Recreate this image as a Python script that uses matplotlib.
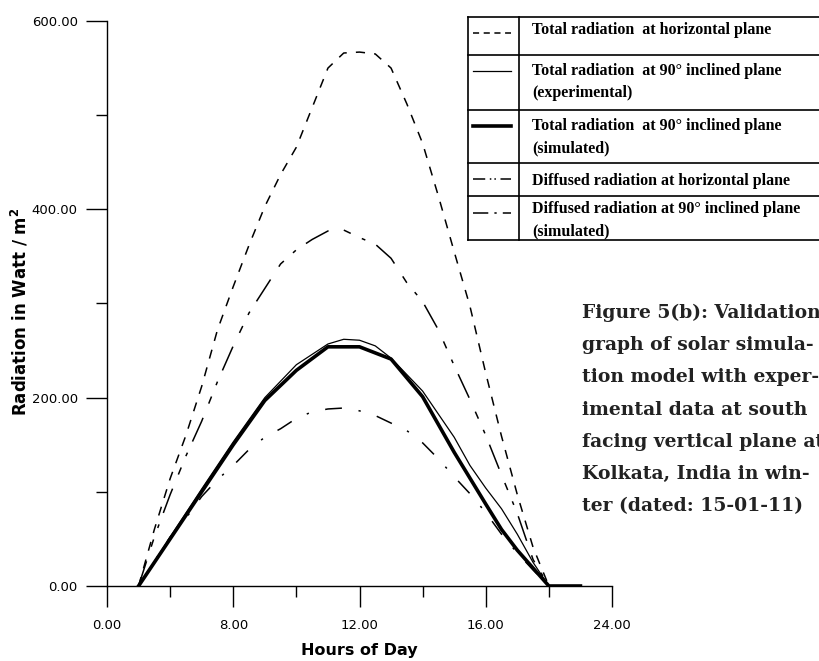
import matplotlib
matplotlib.use("Agg")
import matplotlib.pyplot as plt
from matplotlib.lines import Line2D

# hours of day (axis units) and radiation in W/m2
hours_th = [5.0, 5.5, 6.0, 6.5, 7.0, 7.5, 8.0, 8.5, 9.0, 9.5, 10.0, 10.5, 11.0, 11.5,
            12.0, 12.5, 13.0, 13.5, 14.0, 14.5, 15.0, 15.5, 16.0, 16.5, 17.0, 17.5, 18.0]
total_horizontal = [0, 60, 114, 160, 212, 272, 318, 362, 403, 437, 466, 508, 550, 566,
                    567, 565, 550, 512, 470, 414, 355, 297, 226, 159, 97, 41, 0]

hours_dh = hours_th
diffused_horizontal = [0, 52, 97, 138, 175, 217, 255, 290, 316, 342, 357, 368, 377, 378,
                       370, 363, 348, 322, 302, 272, 234, 198, 160, 118, 77, 28, 0]

hours_te = [5.0, 6.0, 7.0, 8.0, 9.0, 10.0, 11.0, 11.5, 12.0, 12.5, 13.0, 14.0, 15.0,
            15.5, 16.0, 16.5, 17.0, 17.5, 18.0]
total_90_exp = [0, 52, 103, 153, 200, 235, 257, 262, 261, 255, 242, 207, 158,
                128, 104, 82, 55, 25, 0]

hours_ts = [5.0, 6.0, 7.0, 8.0, 9.0, 10.0, 11.0, 12.0, 13.0, 14.0, 15.0, 16.0, 16.5,
            17.0, 18.0, 19.0]
total_90_sim = [0, 50, 100, 150, 197, 229, 254, 254, 241, 201, 142, 87, 60, 38, 0, 0]

hours_d90 = hours_th
diffused_90_sim = [0, 26, 52, 72, 95, 113, 128, 145, 158, 167, 178, 185, 188, 189,
                   186, 181, 173, 165, 152, 135, 116, 98, 78, 55, 35, 17, 0]

xticks = [4, 8, 12, 16, 20]
xtick_labels = ["0.00", "8.00", "12.00", "16.00", "24.00"]
yticks = [0, 200, 400, 600]
ytick_labels = ["0.00", "200.00", "400.00", "600.00"]

labels = [
    ["Total radiation  at horizontal plane"],
    ["Total radiation  at 90\u00b0 inclined plane", "(experimental)"],
    ["Total radiation  at 90\u00b0 inclined plane", "(simulated)"],
    ["Diffused radiation at horizontal plane"],
    ["Diffused radiation at 90\u00b0 inclined plane", "(simulated)"],
]
styles = [
    dict(color="black", lw=1.1, ls=(0, (6, 6))),
    dict(color="black", lw=0.9, ls="-"),
    dict(color="black", lw=2.6, ls="-"),
    dict(color="black", lw=1.1, ls=(0, (17, 10, 5, 8, 2.5, 8))),
    dict(color="black", lw=1.1, ls=(0, (11, 11, 1.5, 11))),
]

W, H = 819, 661
fig = plt.figure(figsize=(W / 100, H / 100), dpi=100)
ax = fig.add_axes([107 / W, 1 - 586 / H, (612 - 107) / W, (586 - 21) / H])

series = [(hours_th, total_horizontal), (hours_te, total_90_exp), (hours_ts, total_90_sim),
          (hours_dh, diffused_horizontal), (hours_d90, diffused_90_sim)]
for (x, y), st in zip(series, styles):
    ax.plot(x, y, **st)

ax.set_xlim(4, 20)
ax.set_ylim(0, 600)
ax.spines["top"].set_visible(False)
ax.spines["right"].set_visible(False)
for s in ["left", "bottom"]:
    ax.spines[s].set_linewidth(1.0)
ax.set_xticks(xticks)
ax.set_xticklabels(xtick_labels)
ax.set_xticks([6, 10, 14, 18], minor=True)
ax.set_yticks(yticks)
ax.set_yticklabels(ytick_labels)
ax.set_yticks([100, 300, 500], minor=True)
ax.tick_params(which="major", direction="out", length=15, width=1.0, labelsize=9.5, pad=6)
ax.tick_params(which="minor", direction="out", length=8, width=1.0)
ax.tick_params(axis="x", which="major", pad=9)
ax.set_xlabel("Hours of Day", fontsize=11.5, fontweight="bold")
ax.xaxis.set_label_coords(0.5, -(650 - 586) / 565, transform=ax.transAxes)
ax.set_ylabel("Radiation in Watt / m$\\mathbf{^2}$", fontsize=12, fontweight="bold")
ax.yaxis.set_label_coords(-(107 - 20) / 505, 0.485)
ax.xaxis.label.set_va("center")
ax.yaxis.label.set_va("center")

# legend drawn as a table in the upper right corner
def fx(px):
    return px / W

def fy(py):
    return 1 - py / H

box_l, box_r, col = 468, 830, 519
rows = [17, 55, 110, 163, 196, 240]
sample_y = [33, 71, 126, 179, 213]
text_y = [[30], [71, 93], [126, 148], [181], [209, 231]]
for y0 in rows:
    fig.add_artist(Line2D([fx(box_l), fx(box_r)], [fy(y0), fy(y0)], color="black", lw=1.2))
fig.add_artist(Line2D([fx(box_l), fx(box_l)], [fy(rows[0]), fy(rows[-1])], color="black", lw=1.2))
fig.add_artist(Line2D([fx(col), fx(col)], [fy(rows[0]), fy(rows[-1])], color="black", lw=1.2))
for i, st in enumerate(styles):
    st2 = dict(st)
    if i == 0:
        st2["ls"] = (0, (4, 3))
    if i == 3:
        st2["ls"] = (0, (8, 3, 1, 2, 1, 3))
    if i == 4:
        st2["ls"] = (0, (10, 4, 1.5, 4))
    fig.add_artist(Line2D([fx(473), fx(511)], [fy(sample_y[i]), fy(sample_y[i])], **st2))
    for t, ty in zip(labels[i], text_y[i]):
        fig.text(fx(532), fy(ty), t, fontsize=11.5, fontweight="bold",
                 family="Liberation Serif", va="center", ha="left")

caption = ["Figure 5(b): Validation", "graph of solar simula-", "tion model with exper-",
           "imental data at south", "facing vertical plane at", "Kolkata, India in win-",
           "ter (dated: 15-01-11)"]
for i, line in enumerate(caption):
    fig.text(fx(582), fy(313 + 32.2 * i), line, fontsize=13.5, fontweight="bold",
             family="DejaVu Serif", color="#222222", va="center", ha="left")

fig.savefig("out.png", dpi=100)
